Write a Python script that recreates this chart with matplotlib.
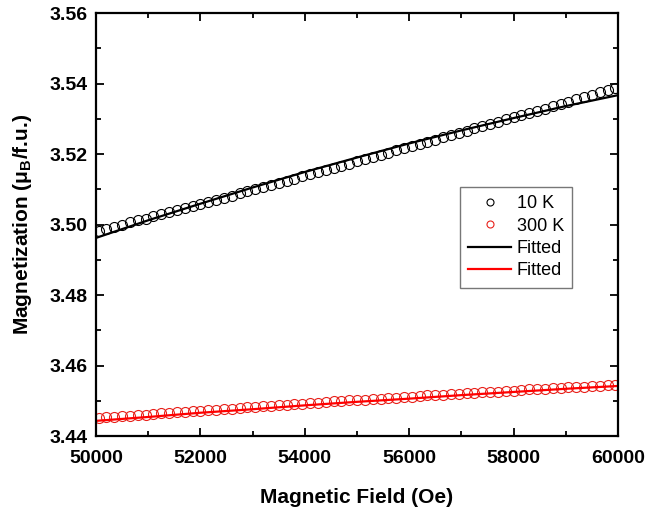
import matplotlib
matplotlib.use('Agg')
import matplotlib.pyplot as plt
from matplotlib.ticker import MultipleLocator
import numpy as np

plt.rcParams['font.family'] = ['Liberation Sans', 'DejaVu Sans']
plt.rcParams['mathtext.fontset'] = 'custom'
plt.rcParams['mathtext.rm'] = 'Liberation Sans:bold'
plt.rcParams['mathtext.bf'] = 'Liberation Sans:bold'

# ── measured data ───────────────────────────────────────────────────────────
field = [50050, 50200, 50350, 50500, 50650, 50800, 50950, 51100, 51250, 51400,
         51550, 51700, 51850, 52000, 52150, 52300, 52450, 52600, 52750, 52900,
         53050, 53200, 53350, 53500, 53650, 53800, 53950, 54100, 54250, 54400,
         54550, 54700, 54850, 55000, 55150, 55300, 55450, 55600, 55750, 55900,
         56050, 56200, 56350, 56500, 56650, 56800, 56950, 57100, 57250, 57400,
         57550, 57700, 57850, 58000, 58150, 58300, 58450, 58600, 58750, 58900,
         59050, 59200, 59350, 59500, 59650, 59800, 59950]

m_10K = [3.4982, 3.4988, 3.4993, 3.4999, 3.5006, 3.5012, 3.5017, 3.5023, 3.5029, 3.5035,
         3.5040, 3.5046, 3.5053, 3.5059, 3.5065, 3.5070, 3.5076, 3.5082, 3.5088, 3.5095,
         3.5101, 3.5107, 3.5113, 3.5118, 3.5124, 3.5130, 3.5137, 3.5143, 3.5149, 3.5155,
         3.5161, 3.5167, 3.5173, 3.5179, 3.5186, 3.5192, 3.5198, 3.5204, 3.5210, 3.5216,
         3.5222, 3.5229, 3.5235, 3.5241, 3.5248, 3.5254, 3.5260, 3.5266, 3.5273, 3.5279,
         3.5285, 3.5291, 3.5298, 3.5304, 3.5310, 3.5316, 3.5323, 3.5329, 3.5336, 3.5342,
         3.5348, 3.5355, 3.5361, 3.5368, 3.5375, 3.5381, 3.5387]

m_300K = [3.4451, 3.4453, 3.4454, 3.4456, 3.4458, 3.4459, 3.4461, 3.4463, 3.4464, 3.4466,
          3.4467, 3.4469, 3.4470, 3.4472, 3.4473, 3.4475, 3.4477, 3.4478, 3.4480, 3.4481,
          3.4483, 3.4484, 3.4486, 3.4487, 3.4489, 3.4490, 3.4492, 3.4493, 3.4495, 3.4496,
          3.4498, 3.4499, 3.4501, 3.4502, 3.4503, 3.4505, 3.4506, 3.4508, 3.4509, 3.4510,
          3.4512, 3.4513, 3.4515, 3.4516, 3.4517, 3.4519, 3.4520, 3.4521, 3.4523, 3.4524,
          3.4525, 3.4526, 3.4528, 3.4529, 3.4530, 3.4532, 3.4533, 3.4534, 3.4535, 3.4537,
          3.4538, 3.4539, 3.4540, 3.4541, 3.4543, 3.4544, 3.4545]

# fitted curves
fit_field = [50000, 51000, 52000, 53000, 54000, 55000, 56000, 57000, 58000, 59000, 60000]
fit_10K = [3.4962, 3.5012, 3.5059, 3.5105, 3.5149, 3.5190, 3.5230, 3.5267, 3.5302, 3.5336, 3.5367]
fit_300K = [3.4443, 3.4454, 3.4466, 3.4476, 3.4487, 3.4497, 3.4506, 3.4516, 3.4525, 3.4534, 3.4542]

# ── figure ──────────────────────────────────────────────────────────────────
fig = plt.figure(figsize=(6.69, 5.08), dpi=100)
ax = fig.add_axes([0.1435, 0.1417, 0.7803, 0.8327])

ax.plot(field, m_10K, 'o', mfc='none', mec='black', ms=7.2, mew=0.8, label='10 K')
ax.plot(field, m_300K, 'o', mfc='none', mec='#e8201a', ms=7.2, mew=0.8, label='300 K')
ax.plot(fit_field, fit_10K, '-', color='black', lw=1.6, label='Fitted')
ax.plot(fit_field, fit_300K, '-', color='#ff0000', lw=1.6, label='Fitted')

ax.set_xlim(50000, 60000)
ax.set_ylim(3.44, 3.56)
ax.xaxis.set_major_locator(MultipleLocator(2000))
ax.xaxis.set_minor_locator(MultipleLocator(1000))
ax.yaxis.set_major_locator(MultipleLocator(0.02))
ax.yaxis.set_minor_locator(MultipleLocator(0.01))
ax.yaxis.set_major_formatter(matplotlib.ticker.FormatStrFormatter('%.2f'))

ax.tick_params(which='both', direction='in', top=True, right=True, width=1.3)
ax.tick_params(which='major', length=6, labelsize=14)
ax.tick_params(axis='x', which='major', pad=10)
ax.tick_params(axis='y', which='major', pad=6)
ax.tick_params(which='minor', length=3.5)
for lbl in ax.get_xticklabels() + ax.get_yticklabels():
    lbl.set_fontweight('bold')
for s in ax.spines.values():
    s.set_linewidth(1.6)

ax.set_xlabel('Magnetic Field (Oe)', fontsize=15, fontweight='bold', labelpad=15)
ax.set_ylabel('Magnetization (μ$_\\mathrm{B}$/f.u.)', fontsize=15, fontweight='bold', labelpad=11)

leg = ax.legend(loc='upper left', bbox_to_anchor=(0.68, 0.61), fontsize=13,
                fancybox=False, edgecolor='#555555', markerscale=0.7,
                handlelength=2.4, handletextpad=0.3, borderpad=0.45, labelspacing=0.3)
leg.get_frame().set_linewidth(1.0)

fig.savefig('out.png', dpi=100)
